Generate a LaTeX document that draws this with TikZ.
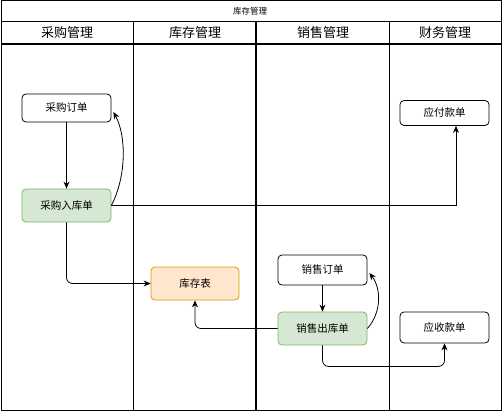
\documentclass[tikz,border=0pt]{standalone}
\usepackage{fontspec}
\newfontfamily\cjk{Noto Sans CJK SC}
\usetikzlibrary{arrows.meta,positioning}
\definecolor{ingreen}{HTML}{D5E8D4}
\definecolor{ingreenline}{HTML}{82B366}
\definecolor{stockorange}{HTML}{FFE6CC}
\definecolor{stockorangeline}{HTML}{D79B00}

\tikzset{
  docbox/.style={draw, rounded corners=4pt, fill=white, minimum width=89pt, minimum height=29pt, line width=0.8pt, font=\cjk\fontsize{10.5}{12}\selectfont},
  flow/.style={draw, line width=0.8pt, -{Stealth[length=7pt, width=6pt]}},
  lane/.style={line width=1pt}
}

\begin{document}
\begin{tikzpicture}[x=1pt, y=-1pt]
    \useasboundingbox (0,0) rectangle (503,414);
    % pool and lanes
    \draw[lane] (1,1) rectangle (501,410);
    \draw[lane] (1,22) -- (501,22);
    \draw[line width=1.5pt] (1,44) -- (501,44);
    \draw[lane] (133,22) -- (133,410);
    \draw[line width=1.3pt] (256,22) -- (256,410);
    \draw[lane] (389,22) -- (389,410);
    \node[font=\cjk\fontsize{8.5}{10}\selectfont] (pool) at (250,11) {库存管理};
    \node[font=\cjk\fontsize{13}{15}\selectfont] (lanepur) at (67,33) {采购管理};
    \node[font=\cjk\fontsize{13}{15}\selectfont] (lanestock) at (195,33) {库存管理};
    \node[font=\cjk\fontsize{13}{15}\selectfont] (lanesales) at (323,33) {销售管理};
    \node[font=\cjk\fontsize{13}{15}\selectfont] (lanefin) at (445,33) {财务管理};

    % documents
    \node[docbox, minimum height=28pt] (purorder) at (66.5,108) {采购订单};
    \node[docbox, fill=ingreen, draw=ingreenline, minimum height=33pt] (purin) at (66.5,205.5) {采购入库单};
    \node[docbox, fill=stockorange, draw=stockorangeline, minimum width=88pt, minimum height=33pt] (stock) at (195,283.5) {库存表};
    \node[docbox, minimum height=30pt] (salesorder) at (322.5,270) {销售订单};
    \node[docbox, fill=ingreen, draw=ingreenline, minimum height=33pt] (salesout) at (322.5,328.5) {销售出库单};
    \node[docbox, minimum height=25pt] (payable) at (444.5,113) {应付款单};
    \node[docbox, minimum height=31pt] (receivable) at (444.5,327.5) {应收款单};

    % flows
    \draw[flow] (purorder) -- (purin);
    \draw[flow] (purin.east) .. controls (127,175) and (126,135) .. ([shift={(2,4)}]purorder.east);
    \draw[flow, rounded corners=6pt] (purin.south) |- (stock.west);
    \draw[flow] (purin.east) -| ([xshift=11.5pt]payable.south);
    \draw[flow] (salesorder) -- (salesout);
    \draw[flow] (salesout.east) .. controls (382,312) and (381,288) .. ([shift={(2,3)}]salesorder.east);
    \draw[flow, rounded corners=6pt] (salesout.west) -| (stock.south);
    \draw[flow, rounded corners=6pt] (salesout.south) -- ++(0,21) -| (receivable.south);
\end{tikzpicture}
\end{document}
